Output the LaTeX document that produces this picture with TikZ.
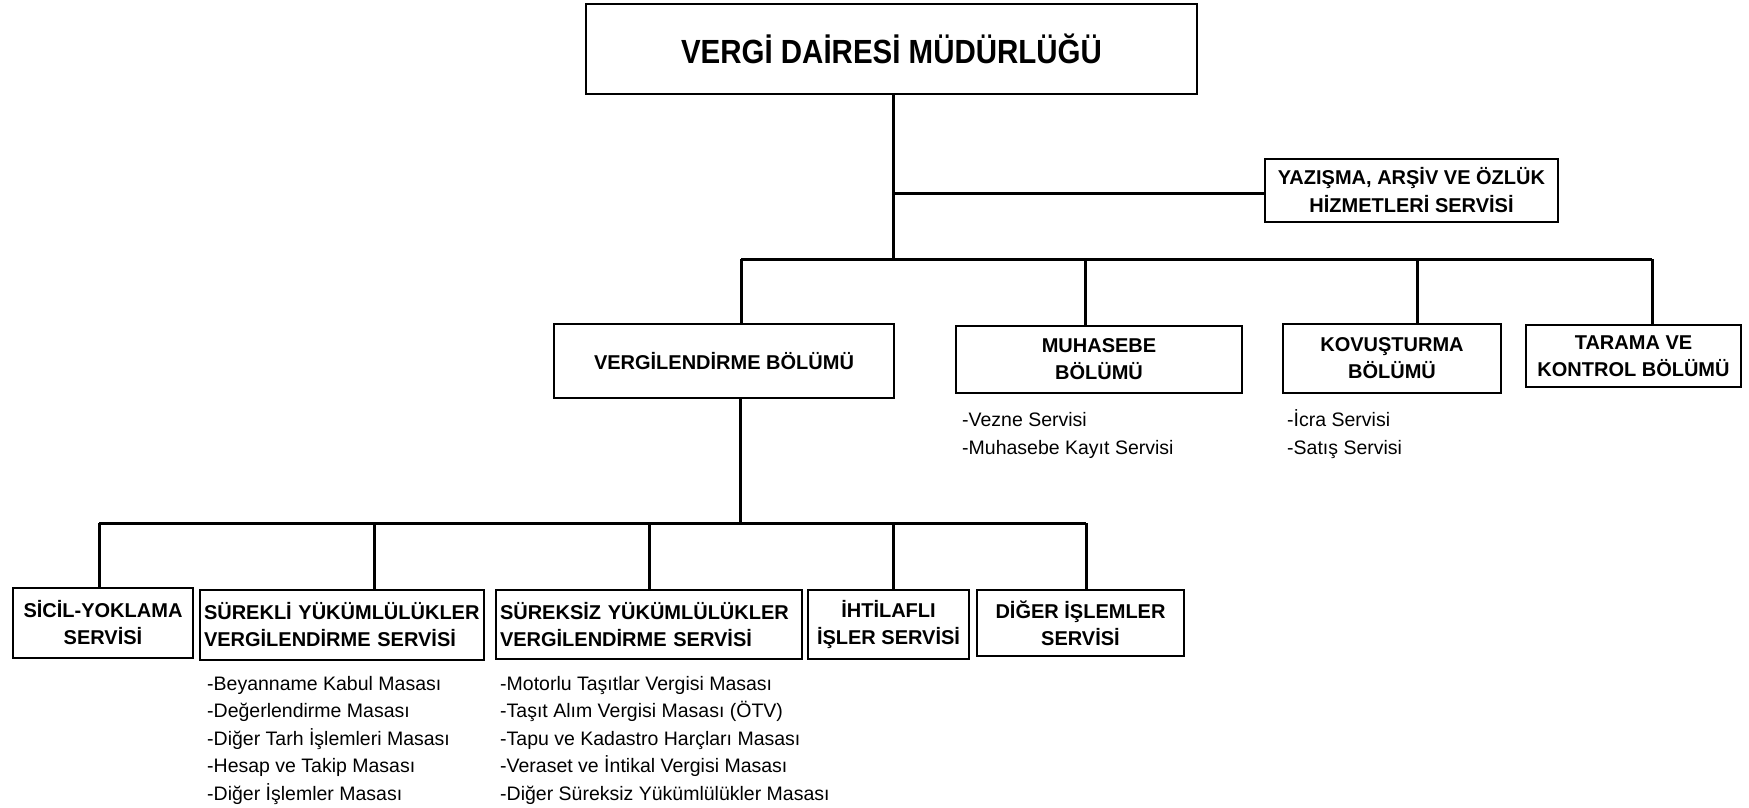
\documentclass[tikz,border=0pt]{standalone}
\usepackage{fontspec}
\setmainfont{Liberation Sans}
\newfontfamily\baslikfont[FakeStretch=0.88]{Liberation Sans}
\usetikzlibrary{positioning}

\tikzset{
  kutu/.style={draw, line width=1.5pt, inner sep=0pt, align=center, font=\bfseries\fontsize{20}{27}\selectfont},
  solkutu/.style={kutu, align=left, inner xsep=4pt},
  bag/.style={line width=3pt},
  liste/.style={anchor=base west, inner sep=0pt, align=left, font=\fontsize{19.5}{27.5}\selectfont},
}

\begin{document}
\begin{tikzpicture}[x=1pt,y=-1pt]
        \useasboundingbox (0,0) rectangle (1749,808);

        % Mudurluk
        \node[kutu, minimum width=611pt, minimum height=90pt, font=\baslikfont\bfseries\fontsize{33.5}{40}\selectfont] (vdm) at (891.5,49) {VERGİ DAİRESİ MÜDÜRLÜĞÜ};
        \node[kutu, minimum width=293pt, minimum height=63pt, font=\bfseries\fontsize{20}{28}\selectfont] (yaz) at (1411.5,190.5) {YAZIŞMA, ARŞİV VE ÖZLÜK\\HİZMETLERİ SERVİSİ};

        % Bolumler
        \node[kutu, minimum width=340pt, minimum height=74pt] (verg) at (724,361) {VERGİLENDİRME BÖLÜMÜ};
        \node[kutu, minimum width=286pt, minimum height=67pt] (muh) at (1099,359.5) {MUHASEBE\\BÖLÜMÜ};
        \node[kutu, minimum width=218pt, minimum height=69pt] (kov) at (1392,358.5) {KOVUŞTURMA\\BÖLÜMÜ};
        \node[kutu, minimum width=215pt, minimum height=62pt] (tar) at (1633.5,356) {TARAMA VE\\KONTROL BÖLÜMÜ};

        % Servisler
        \node[kutu, minimum width=180pt, minimum height=70pt] (sicil) at (103,623) {SİCİL-YOKLAMA\\SERVİSİ};
        \node[solkutu, text width=276pt, minimum height=70pt] (surekli) at (342,625) {SÜREKLİ YÜKÜMLÜLÜKLER\\VERGİLENDİRME SERVİSİ};
        \node[solkutu, text width=298pt, minimum height=69pt] (sureksiz) at (649,624.5) {SÜREKSİZ YÜKÜMLÜLÜKLER\\VERGİLENDİRME SERVİSİ};
        \node[kutu, minimum width=161pt, minimum height=69pt] (iht) at (888.5,624.5) {İHTİLAFLI\\İŞLER SERVİSİ};
        \node[kutu, minimum width=207pt, minimum height=66pt] (diger) at (1080.5,623) {DİĞER İŞLEMLER\\SERVİSİ};

        % Listeler (son satirin tabani)
        \node[liste] (muhliste) at (962,454) {-Vezne Servisi\\-Muhasebe Kayıt Servisi};
        \node[liste] (kovliste) at (1287,454) {-İcra Servisi\\-Satış Servisi};
        \node[liste] (sureklilist) at (207,800) {-Beyanname Kabul Masası\\-Değerlendirme Masası\\-Diğer Tarh İşlemleri Masası\\-Hesap ve Takip Masası\\-Diğer İşlemler Masası};
        \node[liste] (sureksizlist) at (500,800) {-Motorlu Taşıtlar Vergisi Masası\\-Taşıt Alım Vergisi Masası (ÖTV)\\-Tapu ve Kadastro Harçları Masası\\-Veraset ve İntikal Vergisi Masası\\-Diğer Süreksiz Yükümlülükler Masası};

        % Baglantilar
        \coordinate (ustsol) at (741,259);
        \coordinate (ustsag) at (1652,259);
        \coordinate (kol) at (893,193);
        \coordinate (altsol) at (99,523);
        \coordinate (altsag) at (1086,523);
        \draw[bag] (vdm.south -| kol) -- (kol |- ustsol);
        \draw[bag] (kol) -- (kol -| yaz.west);
        \draw[bag] (ustsol) -- (ustsag);
        \draw[bag] (ustsol) -- (ustsol |- verg.north);
        \draw[bag] (1085,259) -- (muh.north -| 1085,0);
        \draw[bag] (1417,259) -- (kov.north -| 1417,0);
        \draw[bag] (ustsag) -- (ustsag |- tar.north);
        \draw[bag] (verg.south -| 740,0) -- (740,523);
        \draw[bag] (altsol) -- (altsag);
        \draw[bag] (altsol) -- (altsol |- sicil.north);
        \draw[bag] (374,523) -- (surekli.north -| 374,0);
        \draw[bag] (649,523) -- (sureksiz.north -| 649,0);
        \draw[bag] (893,523) -- (iht.north -| 893,0);
        \draw[bag] (altsag) -- (altsag |- diger.north);
    \end{tikzpicture}
\end{document}
